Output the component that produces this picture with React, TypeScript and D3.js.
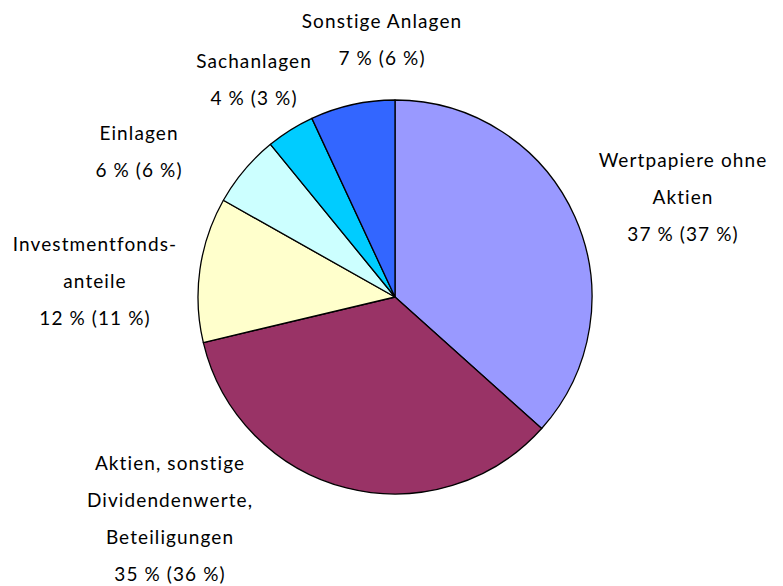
import { useEffect, useRef } from "react";
import * as d3 from "d3";

const categories = [
  "Wertpapiere ohne Aktien",
  "Aktien, sonstige Dividendenwerte, Beteiligungen",
  "Investmentfonds-anteile",
  "Einlagen",
  "Sachanlagen",
  "Sonstige Anlagen",
];
const shares = [37, 35, 12, 6, 4, 7];
const priorShares = [37, 36, 11, 6, 3, 6];
const labelLines = [
  ["Wertpapiere ohne", "Aktien"],
  ["Aktien, sonstige", "Dividendenwerte,", "Beteiligungen"],
  ["Investmentfonds-", "anteile"],
  ["Einlagen"],
  ["Sachanlagen"],
  ["Sonstige Anlagen"],
];
const colors = ["#9999FF", "#993366", "#FFFFCC", "#CCFFFF", "#00CCFF", "#3366FF"];

// label block centres (first line), relative to the pie centre
const labelOffsets: [number, number][] = [
  [288, -136],
  [-225, 167],
  [-300, -52],
  [-256, -163],
  [-141, -235],
  [-13, -275],
];

export default function App() {
  const svgRef = useRef<SVGSVGElement | null>(null);

  useEffect(() => {
    if (!svgRef.current) return;
    const width = 783;
    const height = 586;
    const cx = 395;
    const cy = 297;
    const radius = 197;
    const lineH = 36.8;

    const svg = d3.select(svgRef.current);
    svg.selectAll("*").remove();
    svg.attr("viewBox", `0 0 ${width} ${height}`);

    const data = categories.map((c, i) => ({
      name: c,
      value: shares[i],
      prior: priorShares[i],
      lines: labelLines[i],
      color: colors[i],
      offset: labelOffsets[i],
    }));
    type D = (typeof data)[number];

    const pie = d3.pie<D>().value((d) => d.value).sort(null);
    const arc = d3.arc<d3.PieArcDatum<D>>().innerRadius(0).outerRadius(radius);

    const g = svg.append("g").attr("transform", `translate(${cx},${cy})`);

    g.selectAll("path")
      .data(pie(data))
      .enter()
      .append("path")
      .attr("d", arc)
      .attr("fill", (d) => d.data.color)
      .attr("stroke", "#000")
      .attr("stroke-width", 1.3)
      .attr("stroke-linejoin", "round");

    const labels = g
      .selectAll("g.label")
      .data(data)
      .enter()
      .append("g")
      .attr("class", "label")
      .attr("transform", (d) => `translate(${d.offset[0]},${d.offset[1]})`);

    labels.each(function (d) {
      const sel = d3.select(this);
      const all = [...d.lines, `${d.value} % (${d.prior} %)`];
      all.forEach((t, i) => {
        sel
          .append("text")
          .attr("x", 0)
          .attr("y", i * lineH)
          .attr("dy", "0.33em")
          .attr("text-anchor", "middle")
          .attr("font-family", "Lato, 'Open Sans', sans-serif")
          .attr("font-size", 19)
          .attr("letter-spacing", 1.1)
          .attr("fill", "#000")
          .text(t);
      });
    });
  }, []);

  return (
    <svg
      ref={svgRef}
      width={783}
      height={586}
      style={{ position: "absolute", left: 0, top: 0, background: "#fff" }}
    />
  );
}
